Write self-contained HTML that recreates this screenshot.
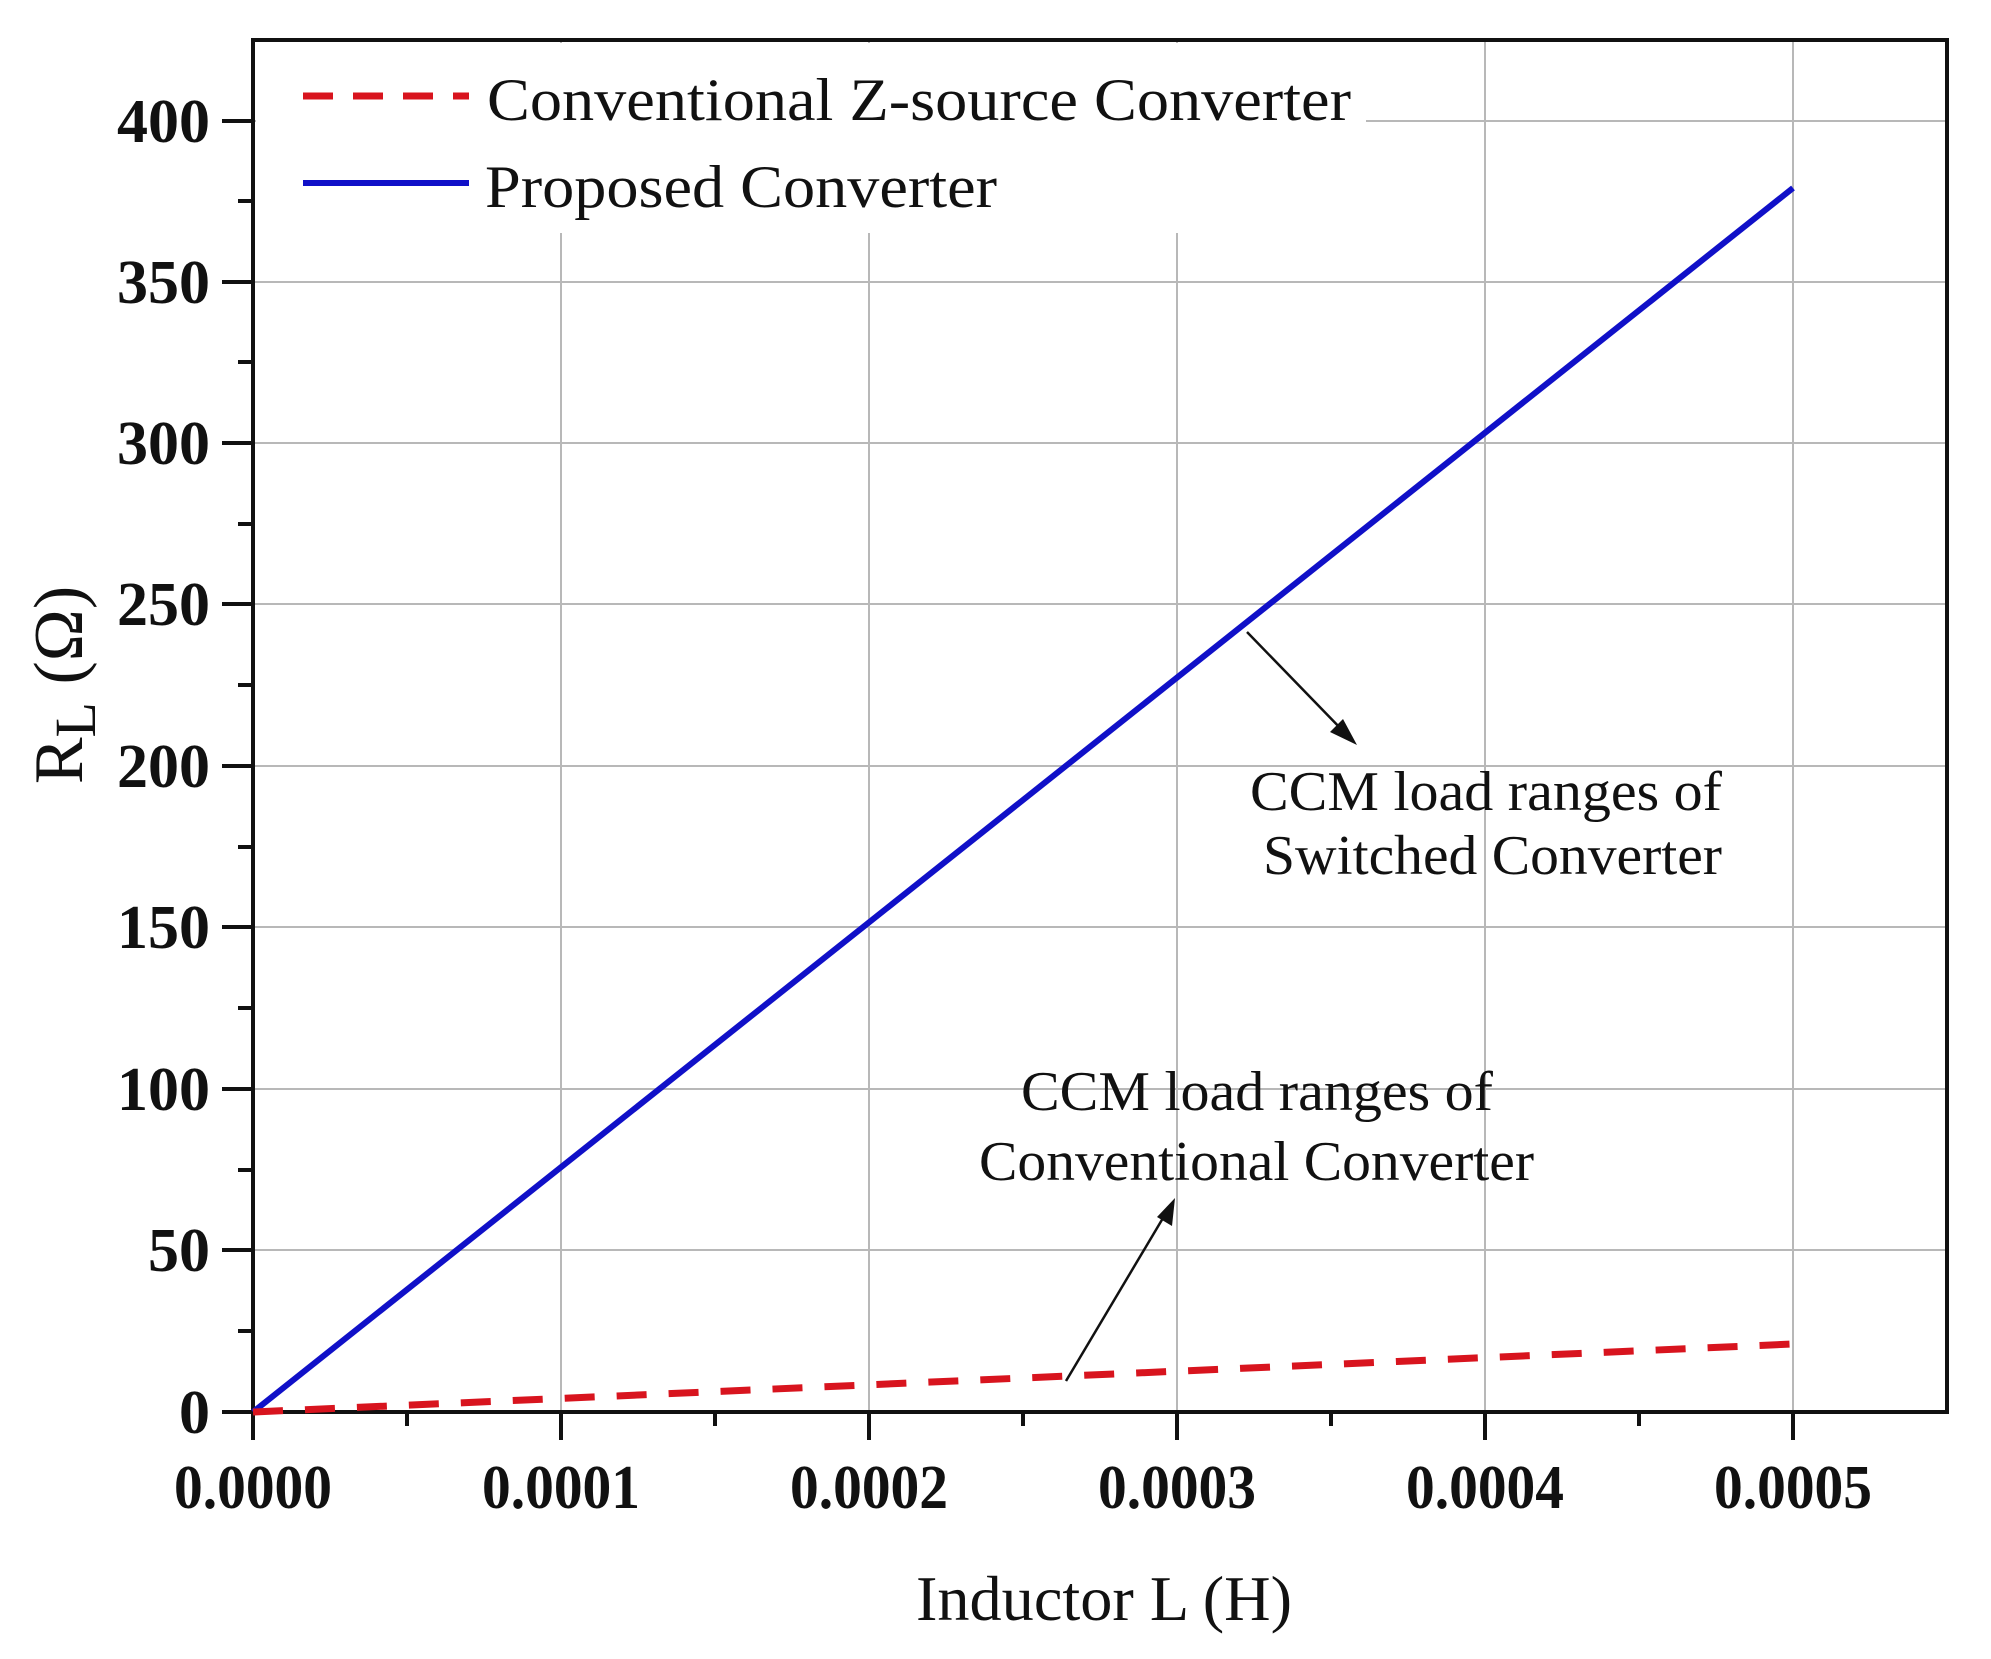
<!DOCTYPE html>
<html><head><meta charset="utf-8"><style>html,body{margin:0;padding:0;background:#fff}</style></head>
<body>
<svg width="1991" height="1654" viewBox="0 0 1991 1654" xmlns="http://www.w3.org/2000/svg" font-family="'Liberation Serif', serif">
<rect width="1991" height="1654" fill="#fff"/>
<g stroke="#b8b8b8" stroke-width="2">
<line x1="253" y1="1089" x2="1947" y2="1089"/>
<line x1="253" y1="927" x2="1947" y2="927"/>
<line x1="253" y1="766" x2="1947" y2="766"/>
<line x1="253" y1="604" x2="1947" y2="604"/>
<line x1="253" y1="443" x2="1947" y2="443"/>
<line x1="253" y1="282" x2="1947" y2="282"/>
<line x1="253" y1="121" x2="1947" y2="121"/>
<line x1="561" y1="40" x2="561" y2="1412"/>
<line x1="869" y1="40" x2="869" y2="1412"/>
<line x1="1177" y1="40" x2="1177" y2="1412"/>
<line x1="1485" y1="40" x2="1485" y2="1412"/>
<line x1="1793" y1="40" x2="1793" y2="1412"/>
<line x1="253" y1="1250" x2="1947" y2="1250"/>
</g>
<rect x="256" y="43" width="1110" height="190" fill="#fff"/>
<rect x="253" y="40" width="1694" height="1372" fill="none" stroke="#111" stroke-width="4"/>
<g stroke="#111" stroke-width="4">
<line x1="222" y1="1412" x2="253" y2="1412"/><line x1="222" y1="1250" x2="253" y2="1250"/><line x1="222" y1="1089" x2="253" y2="1089"/><line x1="222" y1="927" x2="253" y2="927"/><line x1="222" y1="766" x2="253" y2="766"/><line x1="222" y1="604" x2="253" y2="604"/><line x1="222" y1="443" x2="253" y2="443"/><line x1="222" y1="282" x2="253" y2="282"/><line x1="222" y1="121" x2="253" y2="121"/>
<line x1="238" y1="1331" x2="253" y2="1331"/><line x1="238" y1="1170" x2="253" y2="1170"/><line x1="238" y1="1008" x2="253" y2="1008"/><line x1="238" y1="847" x2="253" y2="847"/><line x1="238" y1="685" x2="253" y2="685"/><line x1="238" y1="524" x2="253" y2="524"/><line x1="238" y1="362" x2="253" y2="362"/><line x1="238" y1="201" x2="253" y2="201"/>
<line x1="253" y1="1412" x2="253" y2="1440"/><line x1="561" y1="1412" x2="561" y2="1440"/><line x1="869" y1="1412" x2="869" y2="1440"/><line x1="1177" y1="1412" x2="1177" y2="1440"/><line x1="1485" y1="1412" x2="1485" y2="1440"/><line x1="1793" y1="1412" x2="1793" y2="1440"/>
<line x1="407" y1="1412" x2="407" y2="1426"/><line x1="715" y1="1412" x2="715" y2="1426"/><line x1="1023" y1="1412" x2="1023" y2="1426"/><line x1="1331" y1="1412" x2="1331" y2="1426"/><line x1="1639" y1="1412" x2="1639" y2="1426"/>
</g>
<g font-size="62" font-weight="bold" text-anchor="end" fill="#111">
<text x="210" y="1433">0</text><text x="210" y="1271">50</text><text x="210" y="1110">100</text><text x="210" y="948">150</text><text x="210" y="787">200</text><text x="210" y="625">250</text><text x="210" y="464">300</text><text x="210" y="303">350</text><text x="210" y="142">400</text>
</g>
<g font-size="62" font-weight="bold" fill="#111">
<text x="174" y="1508" textLength="158" lengthAdjust="spacingAndGlyphs">0.0000</text>
<text x="482" y="1508" textLength="158" lengthAdjust="spacingAndGlyphs">0.0001</text>
<text x="790" y="1508" textLength="158" lengthAdjust="spacingAndGlyphs">0.0002</text>
<text x="1098" y="1508" textLength="158" lengthAdjust="spacingAndGlyphs">0.0003</text>
<text x="1406" y="1508" textLength="158" lengthAdjust="spacingAndGlyphs">0.0004</text>
<text x="1714" y="1508" textLength="158" lengthAdjust="spacingAndGlyphs">0.0005</text>
</g>
<text x="916" y="1620" font-size="64" fill="#111" textLength="376" lengthAdjust="spacingAndGlyphs">Inductor L (H)</text>
<text transform="translate(82,685) rotate(-90)" font-size="70" text-anchor="middle" fill="#111">R<tspan font-size="58" dy="13">L</tspan><tspan dy="-13">   (Ω)</tspan></text>
<line x1="253" y1="1412" x2="1793" y2="188" stroke="#1010c8" stroke-width="6"/>
<line x1="253" y1="1412" x2="1793" y2="1344" stroke="#d8141e" stroke-width="7" stroke-dasharray="30,22"/>
<line x1="303" y1="96" x2="469" y2="96" stroke="#d8141e" stroke-width="7" stroke-dasharray="30,20"/>
<line x1="303" y1="183" x2="469" y2="183" stroke="#1010c8" stroke-width="6"/>
<g font-size="60" fill="#111">
<text x="487" y="120" textLength="864" lengthAdjust="spacingAndGlyphs">Conventional Z-source Converter</text>
<text x="485" y="207" textLength="512" lengthAdjust="spacingAndGlyphs">Proposed Converter</text>
</g>
<g font-size="56" fill="#111">
<text x="1250" y="810" textLength="472" lengthAdjust="spacingAndGlyphs">CCM load ranges of</text>
<text x="1263" y="874" textLength="459" lengthAdjust="spacingAndGlyphs">Switched Converter</text>
<text x="1021" y="1110" textLength="472" lengthAdjust="spacingAndGlyphs">CCM load ranges of</text>
<text x="979" y="1180" textLength="555" lengthAdjust="spacingAndGlyphs">Conventional Converter</text>
</g>
<g stroke="#111" stroke-width="2.5" fill="#111">
<line x1="1247" y1="632" x2="1345" y2="733"/>
<polygon points="1357,745 1330,732 1343,719" stroke="none"/>
<line x1="1066" y1="1381" x2="1166" y2="1213"/>
<polygon points="1175,1198 1172,1226 1157,1217" stroke="none"/>
</g>
</svg>
</body></html>
